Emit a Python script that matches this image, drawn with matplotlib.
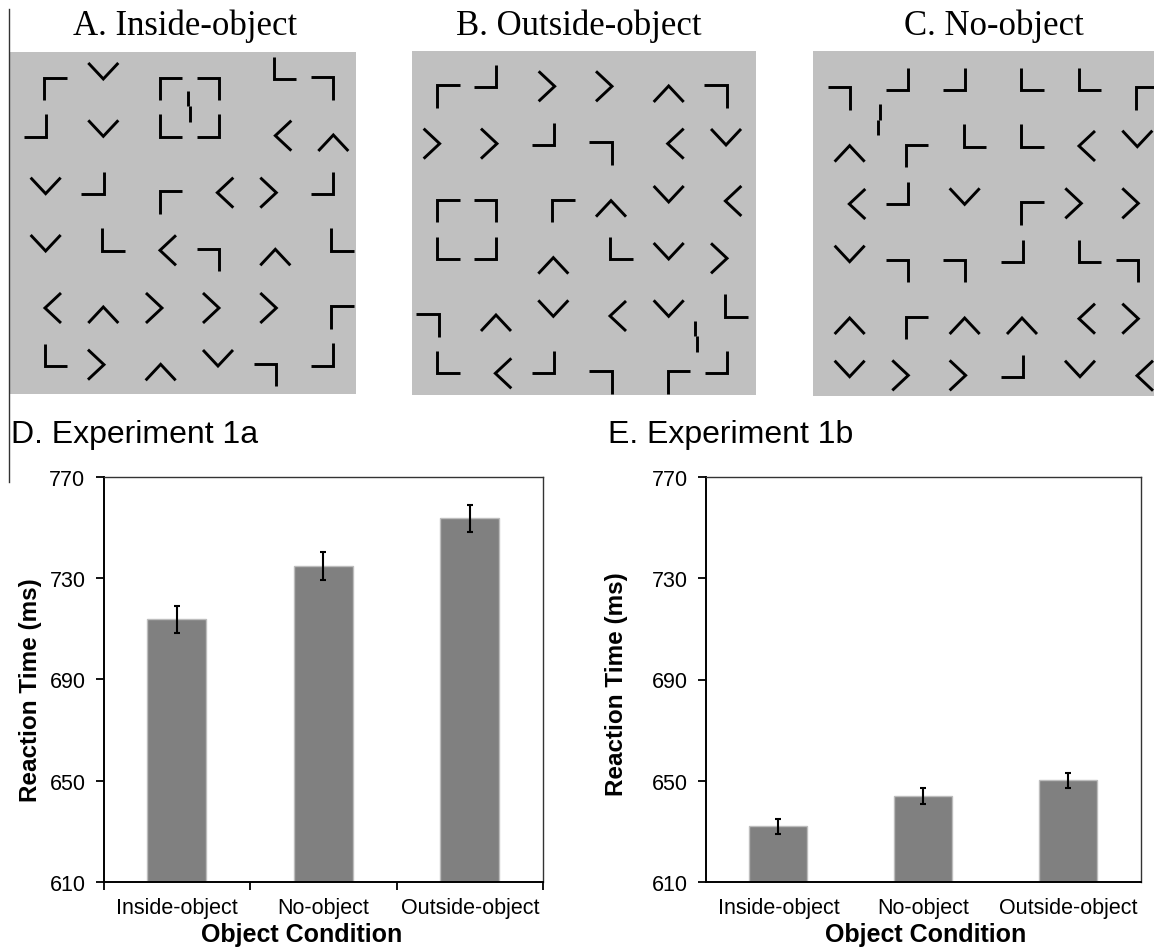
import matplotlib.pyplot as plt
from matplotlib.lines import Line2D
import numpy as np

plt.rcParams['font.family'] = ['Liberation Sans', 'DejaVu Sans']

W, H = 1154, 953

# --- bar chart data ---
conditions = ["Inside-object", "No-object", "Outside-object"]
rt_1a = [713.7, 734.7, 753.5]
err_1a = [5.4, 5.5, 5.4]
rt_1b = [632.0, 644.0, 650.1]
err_1b = [3.0, 3.1, 3.0]
y_ticks = [610, 650, 690, 730, 770]

# --- stimulus displays: (item, x, y), y grows downward ---
# TL/TR/BL/BR = corner shapes, v ^ < > = chevrons, jog_r/jog_l = broken line
inside_items = [
    ("TL", 167, 150), ("v", 310, 96), ("TL", 513, 150), ("TR", 624, 150),
    ("jog_r", 568, 202), ("BL", 856, 87), ("TR", 967, 149),
    ("BR", 105, 260), ("v", 310, 268), ("BL", 513, 260), ("BR", 624, 260),
    ("<", 850, 290), ("^", 1000, 312),
    ("v", 137, 440), ("BR", 278, 432), ("TL", 513, 491), ("<", 676, 461),
    (">", 805, 461), ("BR", 967, 432),
    ("v", 137, 612), ("BL", 341, 602), ("<", 504, 634), ("TR", 624, 664),
    ("^", 826, 655), ("BL", 1028, 602),
    ("<", 159, 807), ("^", 310, 828), (">", 462, 807), (">", 633, 807),
    (">", 805, 807), ("TL", 1028, 836),
    ("BL", 169, 948), (">", 288, 977), ("^", 482, 1000), ("v", 654, 957),
    ("TR", 796, 1008), ("BR", 967, 947),
]
outside_items = [
    ("TL", 131, 173), ("BR", 241, 112), (">", 425, 142), (">", 597, 142),
    ("^", 791, 165), ("TR", 931, 173),
    (">", 80, 314), (">", 252, 314), ("BR", 414, 285), ("TR", 586, 344),
    ("<", 812, 314), ("v", 963, 294),
    ("TL", 131, 516), ("TR", 241, 516), ("TL", 476, 516), ("^", 618, 509),
    ("v", 791, 465), ("<", 985, 486),
    ("BL", 131, 628), ("BR", 241, 628), ("^", 445, 680), ("BL", 649, 628),
    ("v", 791, 636), (">", 942, 658),
    ("TR", 68, 860), ("^", 273, 852), ("v", 445, 808), ("<", 639, 831),
    ("v", 791, 808), ("BL", 994, 800), ("jog_r", 874, 892),
    ("BL", 131, 970), ("<", 295, 1003), ("BR", 414, 970), ("TR", 586, 1031),
    ("TL", 821, 1031), ("BR", 932, 970),
]
noobj_items = [
    ("TR", 103, 179), ("BR", 276, 120), ("BR", 448, 120), ("BL", 683, 120),
    ("BL", 856, 120), ("TL", 1028, 179), ("jog_l", 221, 242),
    ("^", 134, 344), ("TL", 337, 352), ("BL", 511, 290), ("BL", 683, 290),
    ("<", 846, 321), ("v", 997, 299),
    ("<", 157, 495), ("BR", 276, 462), ("v", 479, 472), ("TL", 683, 523),
    (">", 805, 493), (">", 976, 493),
    ("v", 134, 644), ("TR", 276, 695), ("TR", 448, 695), ("BR", 621, 635),
    ("BL", 856, 635), ("TR", 966, 695),
    ("^", 134, 861), ("TL", 337, 867), ("^", 479, 861), ("^", 651, 861),
    ("<", 846, 839), (">", 976, 839),
    ("v", 134, 989), (">", 286, 1009), (">", 458, 1009), ("BR", 621, 980),
    ("v", 825, 989), ("<", 1020, 1010),
]

ARM = 33.5      # half size of a corner
CW, CD = 45, 24 # chevron half width / half depth


def strokes(kind, x, y):
    a = ARM
    if kind == "TL":
        return [[(x + a, y - a), (x - a, y - a), (x - a, y + a)]]
    if kind == "TR":
        return [[(x - a, y - a), (x + a, y - a), (x + a, y + a)]]
    if kind == "BL":
        return [[(x - a, y - a), (x - a, y + a), (x + a, y + a)]]
    if kind == "BR":
        return [[(x + a, y - a), (x + a, y + a), (x - a, y + a)]]
    if kind == "v":
        return [[(x - CW, y - CD), (x, y + CD), (x + CW, y - CD)]]
    if kind == "^":
        return [[(x - CW, y + CD), (x, y - CD), (x + CW, y + CD)]]
    if kind == "<":
        return [[(x + CD, y - CW), (x - CD, y), (x + CD, y + CW)]]
    if kind == ">":
        return [[(x - CD, y - CW), (x + CD, y), (x - CD, y + CW)]]
    s = 3 if kind == "jog_r" else -3
    return [[(x - s, y - 47), (x - s, y)], [(x + s, y), (x + s, y + 47)]]


def px_axes(fig, x0, y0, x1, y1):
    return fig.add_axes([x0 / W, 1 - y1 / H, (x1 - x0) / W, (y1 - y0) / H])


fig = plt.figure(figsize=(W / 100, H / 100), dpi=100)

displays = [
    ("A. Inside-object", inside_items, (9.3, 53.3, 356, 395), (28, 1068, 40, 1065), 185),
    ("B. Outside-object", outside_items, (412.3, 52.3, 755.7, 396), (22, 1052, 37, 1068), 579),
    ("C. No-object", noobj_items, (813.3, 52.3, 1154, 396.7), (25, 1047, 37, 1070), 994),
]
for title, items, box, lims, tx in displays:
    ax = px_axes(fig, *box)
    ax.set_facecolor('#c0c0c0')
    for kind, x, y in items:
        for seg in strokes(kind, x, y):
            xs, ys = zip(*seg)
            ax.plot(xs, ys, color='black', lw=2.1,
                    solid_joinstyle='miter', solid_capstyle='butt')
    ax.set_xlim(lims[0], lims[1])
    ax.set_ylim(lims[3], lims[2])
    ax.set_xticks([])
    ax.set_yticks([])
    for s in ax.spines.values():
        s.set_visible(False)
    fig.text(tx / W, 1 - 35 / H, title, ha='center', va='baseline',
             family='Liberation Serif', fontsize=25)

# thin border line on the left
fig.add_artist(Line2D([9 / W, 9 / W], [1 - 10 / H, 1 - 483 / H],
                      color='#333333', lw=1))


def bar_panel(box, means, errs, title, title_x, cat_ticks, xlab_x, ylab_xy):
    ax = px_axes(fig, *box)
    x = np.arange(len(conditions))
    ax.bar(x, means, width=0.4, color='#808080', edgecolor='#bdbdbd',
           linewidth=1, yerr=errs, capsize=2.5,
           error_kw=dict(elinewidth=1.5, capthick=1.5, ecolor='black'))
    ax.set_xlim(-0.5, 2.5)
    ax.set_ylim(610, 770)
    ax.set_yticks(y_ticks)
    ax.set_xticks(x)
    ax.set_xticklabels(conditions, fontsize=15.5)
    ax.tick_params(axis='x', which='major', length=0, pad=11)
    if cat_ticks:
        ax.set_xticks([-0.5, 0.5, 1.5, 2.5], minor=True)
        ax.tick_params(axis='x', which='minor', length=6, width=1.3, direction='out')
    ax.tick_params(axis='y', length=6, width=1.3, labelsize=15.5, pad=7)
    for side in ['left', 'bottom']:
        ax.spines[side].set_linewidth(1.4)
    for side in ['top', 'right']:
        ax.spines[side].set_linewidth(1.0)
        ax.spines[side].set_color('#333333')
    ax.set_xlabel("Object Condition", fontsize=18, fontweight='bold')
    ax.xaxis.set_label_coords(xlab_x, -0.099)
    ax.set_ylabel("Reaction Time (ms)", fontsize=17.5, fontweight='bold')
    ax.yaxis.set_label_coords(*ylab_xy)
    fig.text(title_x / W, 1 - 443 / H, title, ha='left', va='baseline', fontsize=23)
    return ax


bar_panel((103.5, 477.7, 543, 883), rt_1a, err_1a, "D. Experiment 1a", 10.7,
          True, 0.451, (-0.141, 0.475))
bar_panel((706, 478, 1141, 883), rt_1b, err_1b, "E. Experiment 1b", 607.5,
          False, 0.505, (-0.180, 0.49))

plt.savefig('out.png', dpi=100)
plt.close()
